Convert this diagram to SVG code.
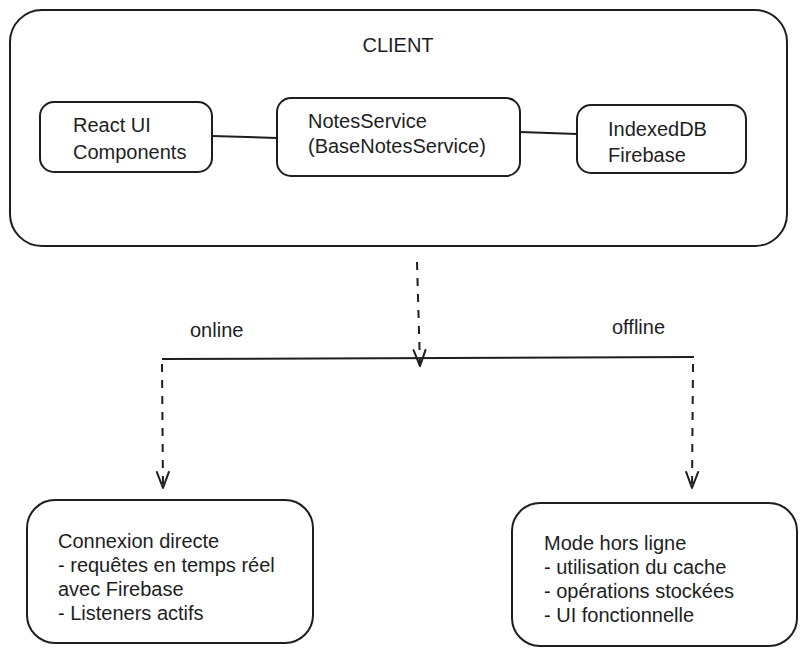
<svg xmlns="http://www.w3.org/2000/svg" width="809" height="656" viewBox="0 0 809 656">
<defs>
<style>
.box{fill:#fff;stroke:#1e1e1e;stroke-width:2}
.t{font-family:"Liberation Sans",Arial,sans-serif;font-size:20px;fill:#1e1e1e}
.ln{stroke:#1e1e1e;stroke-width:2;fill:none}
.dash{stroke:#1e1e1e;stroke-width:2;fill:none;stroke-dasharray:8 8}
</style>
<marker id="ah" viewBox="0 0 20 20" refX="18" refY="10" markerWidth="20" markerHeight="20" markerUnits="userSpaceOnUse" orient="auto">
<path d="M2 4 L18 10 L2 16" fill="none" stroke="#1e1e1e" stroke-width="2" stroke-linecap="round" stroke-linejoin="round"/>
</marker>
</defs>
<rect width="809" height="656" fill="#fff"/>
<g id="client">
<rect class="box" x="10" y="10" width="777" height="236" rx="32"/>
<text class="t" x="398" y="52" text-anchor="middle">CLIENT</text>
</g>
<g id="react-ui">
<rect class="box" x="40" y="102" width="172" height="70" rx="14"/>
<text class="t" x="73" y="132">React UI</text>
<text class="t" x="73" y="159">Components</text>
</g>
<g id="notes-service">
<rect class="box" x="277" y="98" width="243" height="78" rx="14"/>
<text class="t" x="308" y="128">NotesService</text>
<text class="t" x="308" y="153">(BaseNotesService)</text>
</g>
<g id="storage">
<rect class="box" x="577" y="105" width="169" height="68" rx="14"/>
<text class="t" x="608" y="136">IndexedDB</text>
<text class="t" x="608" y="162">Firebase</text>
</g>
<g id="online-box">
<rect class="box" x="27" y="500" width="286" height="143" rx="28"/>
<text class="t" x="58" y="548">Connexion directe</text>
<text class="t" x="58" y="572">- requêtes en temps réel</text>
<text class="t" x="58" y="596">avec Firebase</text>
<text class="t" x="58" y="620">- Listeners actifs</text>
</g>
<g id="offline-box">
<rect class="box" x="512" y="503" width="285" height="143" rx="28"/>
<text class="t" x="544" y="550">Mode hors ligne</text>
<text class="t" x="544" y="574">- utilisation du cache</text>
<text class="t" x="544" y="598">- opérations stockées</text>
<text class="t" x="544" y="622">- UI fonctionnelle</text>
</g>
<g id="connectors">
<line class="ln" x1="212" y1="136" x2="277" y2="138"/>
<line class="ln" x1="520" y1="132" x2="577" y2="134"/>
<line class="dash" x1="417" y1="262" x2="420" y2="366" marker-end="url(#ah)"/>
<line class="ln" x1="162" y1="359" x2="694" y2="357" stroke-width="3"/>
<line class="dash" x1="162" y1="364" x2="163" y2="488" marker-end="url(#ah)"/>
<line class="dash" x1="693" y1="364" x2="692" y2="488" marker-end="url(#ah)"/>
<text class="t" x="190" y="337">online</text>
<text class="t" x="612" y="334">offline</text>
</g>
</svg>
